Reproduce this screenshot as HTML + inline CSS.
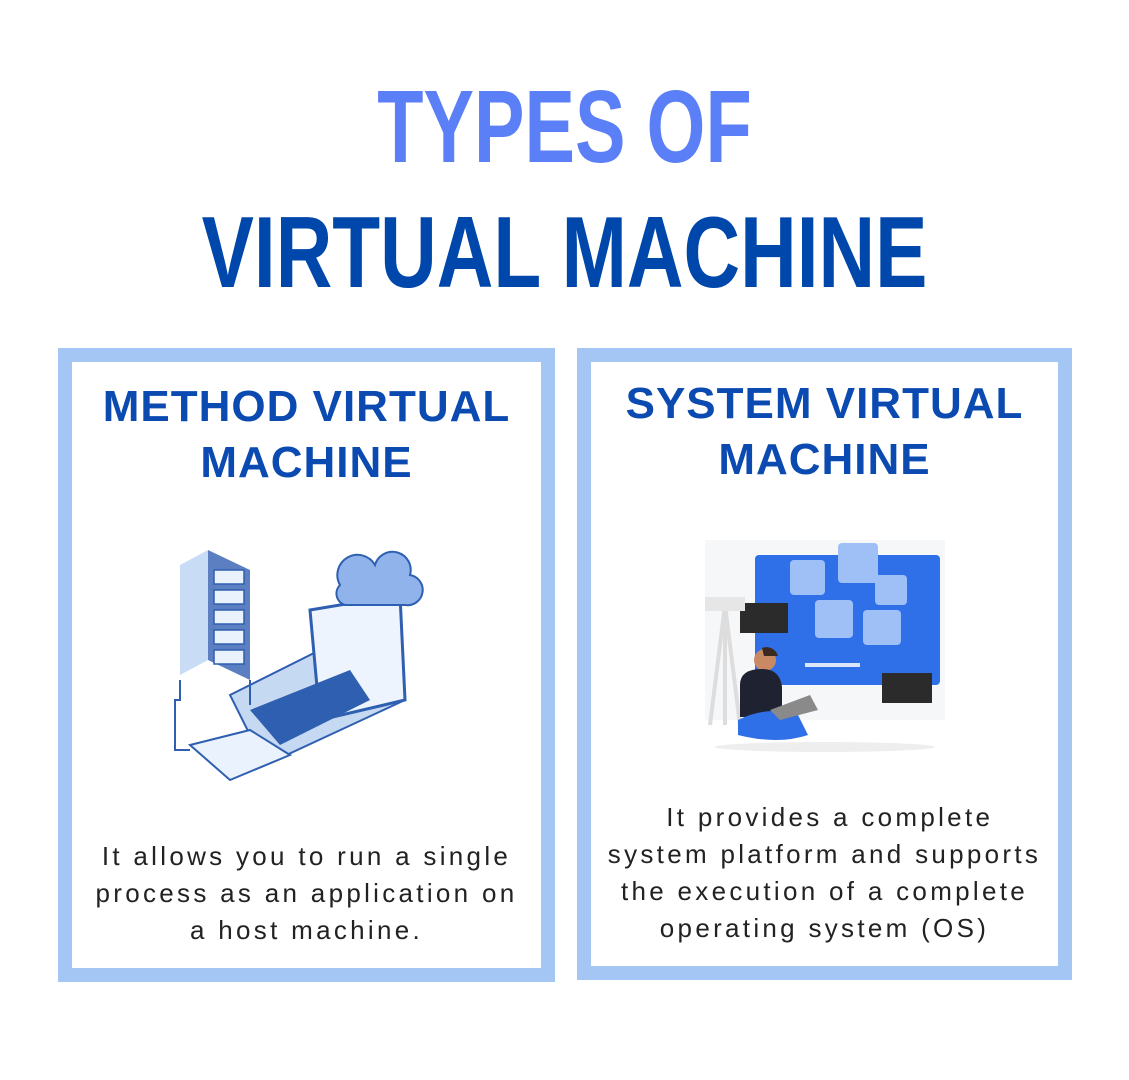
<!DOCTYPE html>
<html><head><meta charset="utf-8"><style>
body{margin:0;width:1129px;height:1080px;background:#fff;position:relative;overflow:hidden;font-family:"Liberation Sans",sans-serif}
.t{position:absolute;left:0;width:1129px;text-align:center;font-family:"Liberation Sans Narrow","Liberation Sans",sans-serif;font-weight:bold;white-space:nowrap}
.box{position:absolute;border:14px solid #a4c6f5;box-sizing:border-box;background:#fff}
.h{position:absolute;text-align:center;color:#0b4ab0;font-weight:bold;font-size:44px;line-height:56px;letter-spacing:1px;white-space:nowrap}
.p{position:absolute;text-align:center;color:#222;font-size:26px;line-height:37px;letter-spacing:3.3px;white-space:nowrap}
</style></head><body>
<div class="t" style="top:67px;font-size:103px;line-height:120px;color:#5b7ff7;transform:scaleX(0.735)">TYPES OF</div>
<div class="t" style="top:193px;font-size:101px;line-height:120px;color:#0047ab;transform:scaleX(0.776)">VIRTUAL MACHINE</div>

<div class="box" style="left:58px;top:348px;width:497px;height:634px"></div>
<div class="box" style="left:577px;top:348px;width:495px;height:632px"></div>

<div class="h" style="left:58px;width:497px;top:379px">METHOD VIRTUAL<br>MACHINE</div>
<div class="h" style="left:577px;width:495px;top:376px">SYSTEM VIRTUAL<br>MACHINE</div>

<div class="p" style="left:58px;width:497px;top:838px">It allows you to run a single<br>process as an application on<br>a host machine.</div>
<div class="p" style="left:577px;width:495px;top:799px">&nbsp;It provides a complete<br>system platform and supports<br>the execution of a complete<br>operating system (OS)</div>

<svg style="position:absolute;left:170px;top:540px" width="260" height="265" viewBox="0 0 260 265">
 <polygon points="38,10 80,30 80,140 38,120" fill="#5b7fc0"/>
 <polygon points="38,10 10,25 10,135 38,120" fill="#c9dcf5"/>
 <g fill="#eaf2fd" stroke="#2f5fb0" stroke-width="1.5">
  <rect x="44" y="30" width="30" height="14"/><rect x="44" y="50" width="30" height="14"/><rect x="44" y="70" width="30" height="14"/><rect x="44" y="90" width="30" height="14"/><rect x="44" y="110" width="30" height="14"/>
 </g>
 <polygon points="60,155 210,80 235,160 95,225" fill="#c6d9f3" stroke="#2f5fb0" stroke-width="2"/>
 <polygon points="140,70 230,55 235,160 150,180" fill="#eef4fd" stroke="#2f5fb0" stroke-width="3"/>
 <polygon points="80,170 180,130 200,160 110,205" fill="#2f5fb0"/>
 <path d="M170,45 a20,20 0 0 1 35,-20 a18,18 0 0 1 35,10 a15,15 0 0 1 -5,30 h-60 a12,12 0 0 1 -5,-20z" fill="#8fb3ea" stroke="#2f5fb0" stroke-width="2"/>
 <polygon points="20,205 80,190 120,215 60,240" fill="#eaf2fd" stroke="#2f5fb0" stroke-width="2"/>
 <path d="M10,140 v20 h-5 v50 h15 M80,140 v25" fill="none" stroke="#2f5fb0" stroke-width="2"/>
</svg>

<svg style="position:absolute;left:700px;top:535px" width="250" height="230" viewBox="0 0 250 230">
 <rect x="5" y="5" width="240" height="180" fill="#f6f7f9"/>
 <rect x="55" y="20" width="185" height="130" rx="4" fill="#2f6fe8"/>
 <rect x="90" y="25" width="35" height="35" rx="4" fill="#9fc0f7"/>
 <rect x="138" y="8" width="40" height="40" rx="4" fill="#9fc0f7"/>
 <rect x="175" y="40" width="32" height="30" rx="4" fill="#9fc0f7"/>
 <rect x="115" y="65" width="38" height="38" rx="4" fill="#9fc0f7"/>
 <rect x="163" y="75" width="38" height="35" rx="4" fill="#9fc0f7"/>
 <rect x="40" y="68" width="48" height="30" fill="#2b2b2b"/>
 <rect x="182" y="138" width="50" height="30" fill="#2b2b2b"/>
 <rect x="105" y="128" width="55" height="4" fill="#dbe6fb"/>
 <path d="M25,70 L10,190 M25,70 L40,190 M25,70 v120" stroke="#ddd" stroke-width="4"/>
 <rect x="5" y="62" width="40" height="14" fill="#e6e6e6"/>
 <circle cx="65" cy="125" r="11" fill="#c98a63"/>
 <path d="M62,113 a12,12 0 0 1 16,8 l-14,0z" fill="#3a2a20"/>
 <path d="M40,150 q0,-16 22,-16 q18,0 20,18 v30 h-42z" fill="#1f2230"/>
 <path d="M38,185 q30,-15 60,-5 l10,20 q-30,10 -70,0z" fill="#2f6fe8"/>
 <polygon points="70,175 110,160 118,175 80,185" fill="#8a8a8a"/>
 <ellipse cx="125" cy="212" rx="110" ry="5" fill="#eee"/>
</svg>
</body></html>
